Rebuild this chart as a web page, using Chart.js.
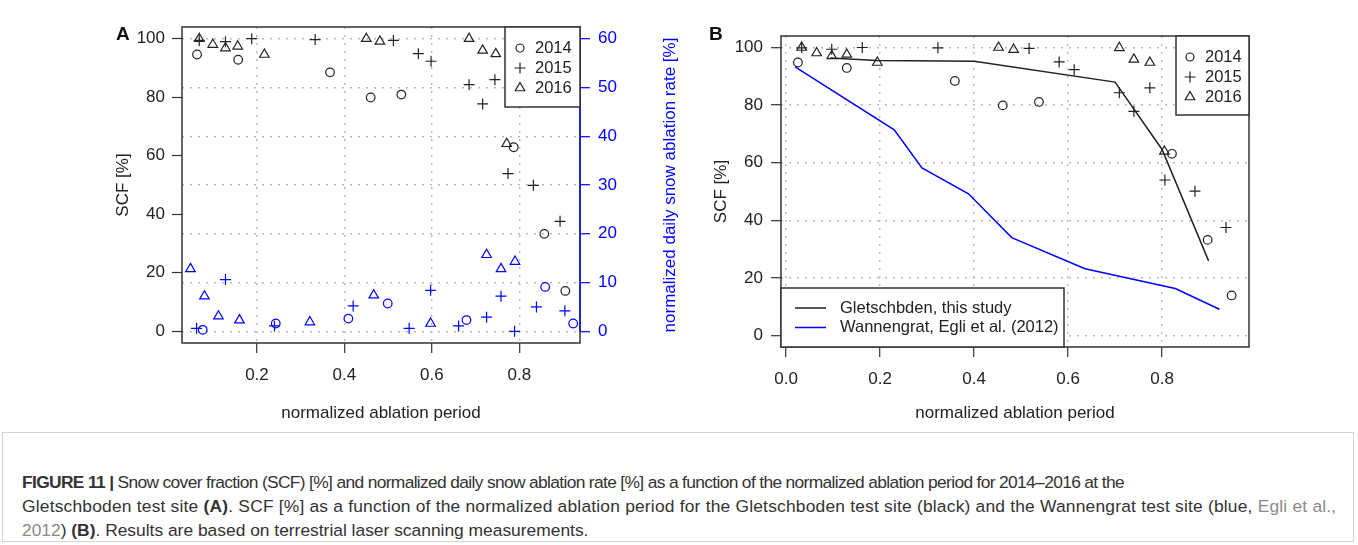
<!DOCTYPE html>
<html>
<head>
<meta charset="utf-8">
<script src="https://cdn.jsdelivr.net/npm/chart.js@4.4.1/dist/chart.umd.min.js"></script>
<style>
  body { margin: 0; background: #fff; width: 1358px; height: 545px; position: relative; overflow: hidden;
         font-family: 'Liberation Sans', Arial, sans-serif; }
  .wrap { position: absolute; top: 0; }
  .panel { position: absolute; font-size: 19px; line-height: 19px; font-weight: bold; color: #111; }
  #capbox { position: absolute; left: 2px; top: 432px; width: 1352px; height: 110px; border: 1px solid #d4d4d4; box-sizing: border-box; }
  #caption { position: absolute; left: 22px; top: 470px; font-size: 17.4px; line-height: 24px; color: #333; white-space: nowrap; }
  #caption div { height: 24px; }
  #caption .ref { color: #8a8a8a; }
</style>
</head>
<body>
<div class="wrap" style="left:0;width:690px;height:430px"><canvas id="chartA" width="690" height="430"></canvas></div>
<div class="wrap" style="left:690px;width:668px;height:430px"><canvas id="chartB" width="668" height="430"></canvas></div>
<div class="panel" style="left:116px;top:24px">A</div>
<div class="panel" style="left:709px;top:24px">B</div>
<div id="capbox"></div>
<div id="caption">
<div style="letter-spacing:-0.66px"><b>FIGURE 11 |</b> Snow cover fraction (SCF) [%] and normalized daily snow ablation rate [%] as a function of the normalized ablation period for 2014–2016 at the</div>
<div style="letter-spacing:0.2px">Gletschboden test site <b>(A)</b>. SCF [%] as a function of the normalized ablation period for the Gletschboden test site (black) and the Wannengrat test site (blue, <span class="ref">Egli et al.,</span></div>
<div><span class="ref">2012</span>) <b>(B)</b>. Results are based on terrestrial laser scanning measurements.</div>
</div>

<script>
// ---- panel A: SCF [%] (left axis, black) ----
const scfA2014x = [0.063, 0.157, 0.367, 0.460, 0.530, 0.787, 0.857, 0.905];
const scfA2014y = [94.6, 92.8, 88.5, 79.9, 80.9, 62.9, 33.3, 13.8];
const scfA2015x = [0.068, 0.128, 0.188, 0.333, 0.512, 0.569, 0.598, 0.685, 0.716, 0.744, 0.774, 0.832, 0.893];
const scfA2015y = [99.4, 99.0, 100.0, 99.7, 99.4, 94.9, 92.3, 84.3, 77.7, 86.0, 53.9, 49.9, 37.6];
const scfA2016x = [0.068, 0.099, 0.128, 0.156, 0.217, 0.450, 0.481, 0.685, 0.716, 0.746, 0.771];
const scfA2016y = [100.0, 98.0, 96.8, 97.4, 94.6, 100.0, 99.1, 100.0, 96.0, 94.8, 64.1];

// ---- panel A: normalized daily snow ablation rate [%] (right axis, blue) ----
const rate2014x = [0.076, 0.243, 0.409, 0.499, 0.679, 0.859, 0.923];
const rate2014y = [0.3, 1.6, 2.6, 5.7, 2.3, 9.1, 1.6];
const rate2015x = [0.062, 0.128, 0.240, 0.420, 0.548, 0.597, 0.661, 0.725, 0.758, 0.789, 0.839, 0.904];
const rate2015y = [0.6, 10.6, 1.1, 5.2, 0.6, 8.4, 1.1, 2.9, 7.2, 0.0, 5.0, 4.2];
const rate2016x = [0.048, 0.080, 0.112, 0.160, 0.321, 0.467, 0.597, 0.725, 0.758, 0.790];
const rate2016y = [12.8, 7.2, 3.1, 2.3, 1.9, 7.4, 1.6, 15.7, 12.8, 14.3];

// ---- panel B: SCF [%] ----
const scfB2014x = [0.025, 0.129, 0.359, 0.461, 0.538, 0.821, 0.897, 0.948];
const scfB2014y = [94.8, 92.9, 88.4, 79.9, 81.1, 63.1, 33.2, 13.9];
const scfB2015x = [0.033, 0.097, 0.162, 0.323, 0.517, 0.581, 0.613, 0.709, 0.740, 0.774, 0.806, 0.870, 0.936];
const scfB2015y = [99.9, 99.4, 100.0, 99.9, 99.7, 95.0, 92.3, 84.3, 77.8, 86.0, 54.0, 50.1, 37.5];
const scfB2016x = [0.033, 0.065, 0.097, 0.129, 0.194, 0.452, 0.484, 0.709, 0.740, 0.774, 0.805];
const scfB2016y = [100.0, 98.1, 97.1, 97.6, 94.8, 100.0, 99.3, 99.9, 95.9, 94.8, 63.9];

// ---- panel B: SCF curves ----
const gletX = [0.094, 0.193, 0.400, 0.700, 0.800, 0.899];
const gletY = [96.4, 95.5, 95.2, 88.0, 64.6, 25.9];
const wannX = [0.019, 0.230, 0.289, 0.388, 0.480, 0.636, 0.828, 0.922];
const wannY = [93.3, 71.4, 58.2, 49.2, 34.0, 23.2, 16.3, 9.1];

// ---- tick labels ----
const xTicksA = [0.2, 0.4, 0.6, 0.8];
const xTicksB = [0.0, 0.2, 0.4, 0.6, 0.8];
const scfTicks = [0, 20, 40, 60, 80, 100];
const rateTicks = [0, 10, 20, 30, 40, 50, 60];

const INK = '#222';
const BLUE = '#0000ff';
const FONT = "'Liberation Sans', Arial, sans-serif";
Chart.defaults.font.family = FONT;
Chart.defaults.color = INK;

const font17 = { size: 17, family: FONT };

function pts(xs, ys) {
    return xs.map((x, i) => ({ x: x, y: ys[i] }));
}

function marks(label, xs, ys, style, color, axis) {
    const r = style === 'circle' ? 4.3 : 5.5;
    return {
        label: label,
        data: pts(xs, ys),
        yAxisID: axis,
        pointStyle: style,
        pointRadius: r,
        pointHoverRadius: r,
        pointBorderWidth: 1.2,
        borderColor: color,
        backgroundColor: 'rgba(0,0,0,0)',
        showLine: false
    };
}

function curve(label, xs, ys, color) {
    return {
        label: label,
        data: pts(xs, ys),
        showLine: true,
        borderColor: color,
        borderWidth: 1.5,
        pointRadius: 0,
        tension: 0,
        fill: false
    };
}

function fixedTicks(list) {
    return function(scale) {
        scale.ticks = list.map(v => ({ value: v }));
    };
}

// grid settings: dotted lines on the plot, solid tick marks outside
function dottedGrid(tickColor) {
    return {
        display: true,
        drawOnChartArea: true,
        drawTicks: true,
        color: '#b8b8b8',
        lineWidth: 1.4,
        tickLength: 10,
        tickColor: tickColor,
        tickWidth: 1.2,
        tickBorderDash: []
    };
}

function ticksOnly() {
    return {
        display: true,
        drawOnChartArea: false,
        drawTicks: true,
        tickLength: 10,
        tickColor: '#333',
        tickWidth: 1.2,
        tickBorderDash: []
    };
}

// box around the plot region, optional right axis line and title
const framePlugin = {
    id: 'frame',
    afterDatasetsDraw(chart, args, opts) {
        const { ctx, chartArea: a } = chart;
        ctx.save();
        ctx.strokeStyle = '#333';
        ctx.lineWidth = 1.5;
        ctx.strokeRect(a.left, a.top, a.right - a.left, a.bottom - a.top);
        if (opts.rightAxis) {
            const y1 = chart.scales.y1;
            ctx.strokeStyle = BLUE;
            ctx.lineWidth = 1.3;
            ctx.beginPath();
            ctx.moveTo(a.right, y1.getPixelForValue(rateTicks[0]));
            ctx.lineTo(a.right, y1.getPixelForValue(rateTicks[rateTicks.length - 1]));
            ctx.stroke();
            ctx.translate(opts.rightTitleX, (a.top + a.bottom) / 2);
            ctx.rotate(-Math.PI / 2);
            ctx.fillStyle = BLUE;
            ctx.font = '17px ' + FONT;
            ctx.textAlign = 'center';
            ctx.textBaseline = 'middle';
            ctx.fillText(opts.rightTitle, 0, 0);
        }
        ctx.restore();
    }
};

// R style legend boxes
const boxLegendPlugin = {
    id: 'boxLegend',
    afterDraw(chart, args, opts) {
        const { ctx, chartArea: a } = chart;
        (opts.boxes || []).forEach(b => {
            const left = b.anchor === 'topright' ? a.right - b.w : a.left;
            const top = b.anchor === 'topright' ? a.top : a.bottom - b.h;
            ctx.save();
            ctx.fillStyle = '#fff';
            ctx.fillRect(left, top, b.w, b.h);
            ctx.strokeStyle = '#333';
            ctx.lineWidth = 1.5;
            ctx.strokeRect(left, top, b.w, b.h);
            ctx.font = '16.5px ' + FONT;
            ctx.textBaseline = 'middle';
            ctx.textAlign = 'left';
            b.rows.forEach((row, i) => {
                const y = top + b.row0 + i * b.gap;
                ctx.strokeStyle = row.color;
                if (row.kind === 'line') {
                    ctx.lineWidth = 1.5;
                    ctx.beginPath();
                    ctx.moveTo(left + b.symX, y);
                    ctx.lineTo(left + b.symX + 31, y);
                    ctx.stroke();
                } else {
                    ctx.lineWidth = 1.2;
                    ctx.fillStyle = 'rgba(0,0,0,0)';
                    const r = row.style === 'circle' ? 4.0 : 5.5;
                    Chart.helpers.drawPoint(ctx, { pointStyle: row.style, radius: r, rotation: 0, borderWidth: 1.2 }, left + b.symX, y);
                }
                ctx.fillStyle = INK;
                ctx.fillText(row.label, left + b.textX, y);
            });
            ctx.restore();
        });
    }
};

const yearRows = [
    { label: '2014', kind: 'point', style: 'circle', color: INK },
    { label: '2015', kind: 'point', style: 'cross', color: INK },
    { label: '2016', kind: 'point', style: 'triangle', color: INK }
];

new Chart(document.getElementById('chartA'), {
    type: 'scatter',
    data: {
        datasets: [
            marks('2014', scfA2014x, scfA2014y, 'circle', INK, 'y'),
            marks('2015', scfA2015x, scfA2015y, 'cross', INK, 'y'),
            marks('2016', scfA2016x, scfA2016y, 'triangle', INK, 'y'),
            marks('2014 rate', rate2014x, rate2014y, 'circle', BLUE, 'y1'),
            marks('2015 rate', rate2015x, rate2015y, 'cross', BLUE, 'y1'),
            marks('2016 rate', rate2016x, rate2016y, 'triangle', BLUE, 'y1')
        ]
    },
    options: {
        responsive: false,
        animation: false,
        devicePixelRatio: 1,
        layout: { padding: { left: 112.8, top: 27, right: 9.8, bottom: 6.8 } },
        plugins: {
            legend: { display: false },
            tooltip: { enabled: false },
            frame: { rightAxis: true, rightTitleX: 670, rightTitle: 'normalized daily snow ablation rate [%]' },
            boxLegend: { boxes: [{ anchor: 'topright', w: 75, h: 80, row0: 21, gap: 20, symX: 15, textX: 30, rows: yearRows }] }
        },
        scales: {
            x: {
                type: 'linear',
                min: 0.0286,
                max: 0.9386,
                afterBuildTicks: fixedTicks(xTicksA),
                afterFit: s => { s.height = 80.2; },
                grid: dottedGrid('#333'),
                border: { display: false, dash: [2, 6] },
                ticks: { font: font17, color: INK, padding: 12, maxRotation: 0, autoSkip: false,
                         callback: v => v.toFixed(1) },
                title: { display: true, text: 'normalized ablation period', font: font17, color: INK, padding: 0 }
            },
            y: {
                position: 'left',
                min: -4,
                max: 104,
                afterBuildTicks: fixedTicks(scfTicks),
                afterFit: s => { s.width = 69.2; },
                grid: ticksOnly(),
                border: { display: false },
                ticks: { font: font17, color: INK, padding: 7 },
                title: { display: true, text: 'SCF [%]', font: font17, color: INK, padding: 0 }
            },
            y1: {
                position: 'right',
                min: -2.4,
                max: 62.4,
                afterBuildTicks: fixedTicks(rateTicks),
                afterFit: s => { s.width = 100.2; },
                grid: dottedGrid(BLUE),
                border: { display: false, dash: [2, 6] },
                ticks: { font: font17, color: BLUE, padding: 8 }
            }
        }
    },
    plugins: [framePlugin, boxLegendPlugin]
});

new Chart(document.getElementById('chartB'), {
    type: 'scatter',
    data: {
        datasets: [
            curve('Gletschbden, this study', gletX, gletY, INK),
            curve('Wannengrat, Egli et al. (2012)', wannX, wannY, BLUE),
            marks('2014', scfB2014x, scfB2014y, 'circle', INK, 'y'),
            marks('2015', scfB2015x, scfB2015y, 'cross', INK, 'y'),
            marks('2016', scfB2016x, scfB2016y, 'triangle', INK, 'y')
        ]
    },
    options: {
        responsive: false,
        animation: false,
        devicePixelRatio: 1,
        layout: { padding: { left: 20.8, top: 36, right: 109, bottom: 6.8 } },
        plugins: {
            legend: { display: false },
            tooltip: { enabled: false },
            frame: { rightAxis: false },
            boxLegend: { boxes: [
                { anchor: 'topright', w: 73, h: 79, row0: 21, gap: 20, symX: 14, textX: 29, rows: yearRows },
                { anchor: 'bottomleft', w: 283, h: 59, row0: 20, gap: 19.5, symX: 14, textX: 59, rows: [
                    { label: 'Gletschbden, this study', kind: 'line', color: INK },
                    { label: 'Wannengrat, Egli et al. (2012)', kind: 'line', color: BLUE }
                ] }
            ] }
        },
        scales: {
            x: {
                type: 'linear',
                min: -0.011,
                max: 0.985,
                afterBuildTicks: fixedTicks(xTicksB),
                afterFit: s => { s.height = 76.2; },
                grid: dottedGrid('#333'),
                border: { display: false, dash: [2, 6] },
                ticks: { font: font17, color: INK, padding: 12, maxRotation: 0, autoSkip: false,
                         callback: v => v.toFixed(1) },
                title: { display: true, text: 'normalized ablation period', font: font17, color: INK, padding: 0 }
            },
            y: {
                position: 'left',
                min: -4,
                max: 104,
                afterBuildTicks: fixedTicks(scfTicks),
                afterFit: s => { s.width = 70.2; },
                grid: dottedGrid('#333'),
                border: { display: false, dash: [2, 6] },
                ticks: { font: font17, color: INK, padding: 8 },
                title: { display: true, text: 'SCF [%]', font: font17, color: INK, padding: 0 }
            }
        }
    },
    plugins: [framePlugin, boxLegendPlugin]
});
</script>
</body>
</html>
